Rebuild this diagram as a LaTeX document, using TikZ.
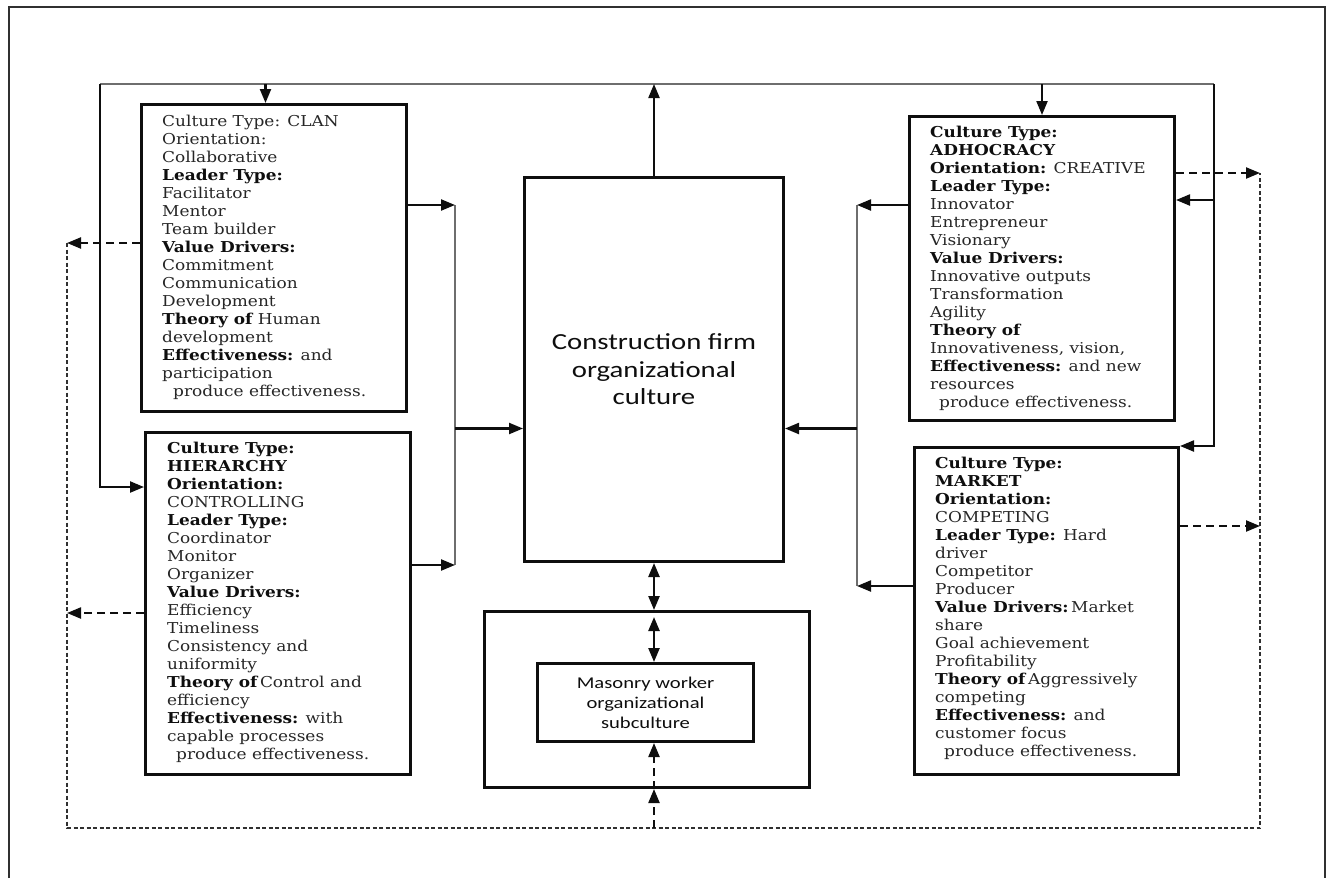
\documentclass[tikz,border=0pt]{standalone}
\usepackage{fontspec}
\setmainfont[FakeStretch=1.13]{DejaVu Serif}
\newfontfamily\hubfont[FakeStretch=1.25]{Carlito}
\usetikzlibrary{arrows.meta,positioning,calc}
\definecolor{ink}{HTML}{0E0E0E}
\definecolor{ink2}{HTML}{262626}
\definecolor{wire}{HTML}{6E6E6E}
\definecolor{rim}{HTML}{303030}
\newcommand\lab[1]{\textbf{\color{ink}#1}}
\tikzset{
  every node/.style={text=ink},
  frame/.style={draw=rim, line width=2.2pt},
  culture/.style={draw=ink, line width=3pt, anchor=north west, inner sep=0pt},
  cultxt/.style={anchor=north west, align=left, inner sep=0pt, text=ink2, font=\fontsize{15}{18}\selectfont},
  hub/.style={draw=ink, line width=3pt, anchor=north west, align=center, inner sep=0pt, text=ink, font=\hubfont\fontsize{23}{27.5}\selectfont},
  subbox/.style={hub, font=\hubfont\fontsize{16.5}{20}\selectfont},
  wireline/.style={draw=wire, line width=2.2pt},
  arr/.style={-{Triangle[length=14pt,width=11pt]}, draw=ink, line width=2.2pt},
  dbl/.style={{Triangle[length=14pt,width=11pt]}-{Triangle[length=14pt,width=11pt]}, draw=ink, line width=2.4pt},
  fb/.style={-{Triangle[length=14pt,width=11pt]}, draw=ink, line width=2.2pt, dash pattern=on 8pt off 5pt},
  loopline/.style={draw=rim, line width=2.4pt, dash pattern=on 4pt off 2.5pt},
}

\begin{document}
\begin{tikzpicture}[x=1pt,y=-1pt]
  \useasboundingbox (0,0) rectangle (1332,878);
  \draw[frame] (9,878) -- (9,7) -- (1325,7) -- (1325,878);

  % --- culture type boxes ---------------------------------------------------
  \node[culture, minimum width=265, minimum height=307] (clan) at (140,103) {};
  \node[cultxt] (clantxt) at ($(clan.north west)+(22,12)$) {%
    Culture Type: CLAN\\ Orientation:\\ Collaborative\\ \lab{Leader Type:}\\
    Facilitator\\ Mentor\\ Team builder\\ \lab{Value Drivers:}\\ Commitment\\
    Communication\\ Development\\ \lab{Theory of} Human\\ development\\
    \lab{Effectiveness:} and\\ participation\\ \hspace*{11pt}produce effectiveness.};

  \node[culture, minimum width=265, minimum height=342] (hier) at (144,431) {};
  \node[cultxt] (hiertxt) at ($(hier.north west)+(23,11)$) {%
    \lab{Culture Type:}\\ \lab{HIERARCHY}\\ \lab{Orientation:}\\ CONTROLLING\\
    \lab{Leader Type:}\\ Coordinator\\ Monitor\\ Organizer\\ \lab{Value Drivers:}\\
    Efficiency\\ Timeliness\\ Consistency and\\ uniformity\\
    \lab{Theory of}\,Control and\\ efficiency\\ \lab{Effectiveness:} with\\
    capable processes\\ \hspace*{9pt}produce effectiveness.};

  \node[culture, minimum width=265, minimum height=304] (adho) at (908,115) {};
  \node[cultxt] (adhotxt) at ($(adho.north west)+(22,11)$) {%
    \lab{Culture Type:}\\ \lab{ADHOCRACY}\\ \lab{Orientation:} CREATIVE\\
    \lab{Leader Type:}\\ Innovator\\ Entrepreneur\\ Visionary\\ \lab{Value Drivers:}\\
    Innovative outputs\\ Transformation\\ Agility\\ \lab{Theory of}\\
    Innovativeness, vision,\\ \lab{Effectiveness:} and new\\ resources\\
    \hspace*{9pt}produce effectiveness.};

  \node[culture, minimum width=264, minimum height=327] (market) at (913,446) {};
  \node[cultxt] (markettxt) at ($(market.north west)+(22,11)$) {%
    \lab{Culture Type:}\\ \lab{MARKET}\\ \lab{Orientation:}\\ COMPETING\\
    \lab{Leader Type:} Hard\\ driver\\ Competitor\\ Producer\\
    \lab{Value Drivers:}\,Market\\ share\\ Goal achievement\\ Profitability\\
    \lab{Theory of}\,Aggressively\\ competing\\ \lab{Effectiveness:} and\\
    customer focus\\ \hspace*{9pt}produce effectiveness.};

  % --- firm culture and subculture ----------------------------------------
  \node[hub, minimum width=259, minimum height=384] (hub) at (523,176)
    {Construction firm\\organizational\\culture};
  \node[hub, minimum width=325, minimum height=176] (sub) at (483,610) {};
  \node[subbox, minimum width=216, minimum height=78] (mason) at (536,662)
    {Masonry worker\\organizational\\subculture};

  % --- top loop -------------------------------------------------------------
  \coordinate (tl) at (100,84);
  \coordinate (tr) at (1214,84);
  \coordinate (clanIn) at ([xshift=-8.5pt]clan.north);
  \draw[wireline] (tl) -- (tr);
  \draw[arr] (tl) |- ([yshift=-56pt]hier.north west);
  \draw[arr] (tr) |- (market.north east);
  \draw[arr] (tr |- 0,200) -- ([yshift=-85pt]adho.north east);
  \draw[arr] (tl -| clanIn) -- (clanIn);
  \draw[arr] (tl -| adho.north) -- (adho.north);
  \draw[arr] (hub.north) -- (hub.north |- tl);

  % --- buses into the firm culture ----------------------------------------
  \coordinate (lbusT) at (455,205);
  \coordinate (lbusB) at (455,565);
  \coordinate (rbusT) at (857,205);
  \coordinate (rbusB) at (857,586);
  \coordinate (hubL) at ([yshift=-59pt]hub.west);
  \coordinate (hubR) at ([yshift=-59pt]hub.east);
  \draw[wireline] (lbusT) -- (lbusB);
  \draw[wireline] (rbusT) -- (rbusB);
  \draw[arr] (clan.east |- lbusT) -- (lbusT);
  \draw[arr] (hier.east |- lbusB) -- (lbusB);
  \draw[arr] (hubL -| lbusT) -- (hubL);
  \draw[arr] (adho.west |- rbusT) -- (rbusT);
  \draw[arr] (market.west |- rbusB) -- (rbusB);
  \draw[arr] (hubR -| rbusT) -- (hubR);

  % --- firm culture and subculture links -----------------------------------
  \draw[dbl] (hub.south) -- (hub.south |- sub.north);
  \draw[dbl] ([yshift=-7pt]hub.south |- sub.north) -- (hub.south |- mason.north);

  % --- dashed feedback loop ------------------------------------------------
  \coordinate (fbL) at (67,243);
  \coordinate (fbBL) at (67,828);
  \coordinate (fbBR) at (1260,828);
  \coordinate (fbR) at (1260,173);
  \coordinate (hierD) at ([yshift=-182pt]hier.north west);
  \coordinate (mktD) at ([yshift=-80pt]market.north east);
  \draw[loopline] (fbL) -- (fbBL) -- (fbBR) -- (fbR);
  \draw[fb] (clan.west |- fbL) -- (fbL);
  \draw[fb] (hierD) -- (hierD -| fbL);
  \draw[fb] (adho.east |- fbR) -- (fbR);
  \draw[fb] (mktD) -- (mktD -| fbR);
  \draw[fb] (fbBL -| hub.south) -- (hub.south |- sub.south);
  \draw[fb] (hub.south |- sub.south) -- (hub.south |- mason.south);
\end{tikzpicture}
\end{document}
